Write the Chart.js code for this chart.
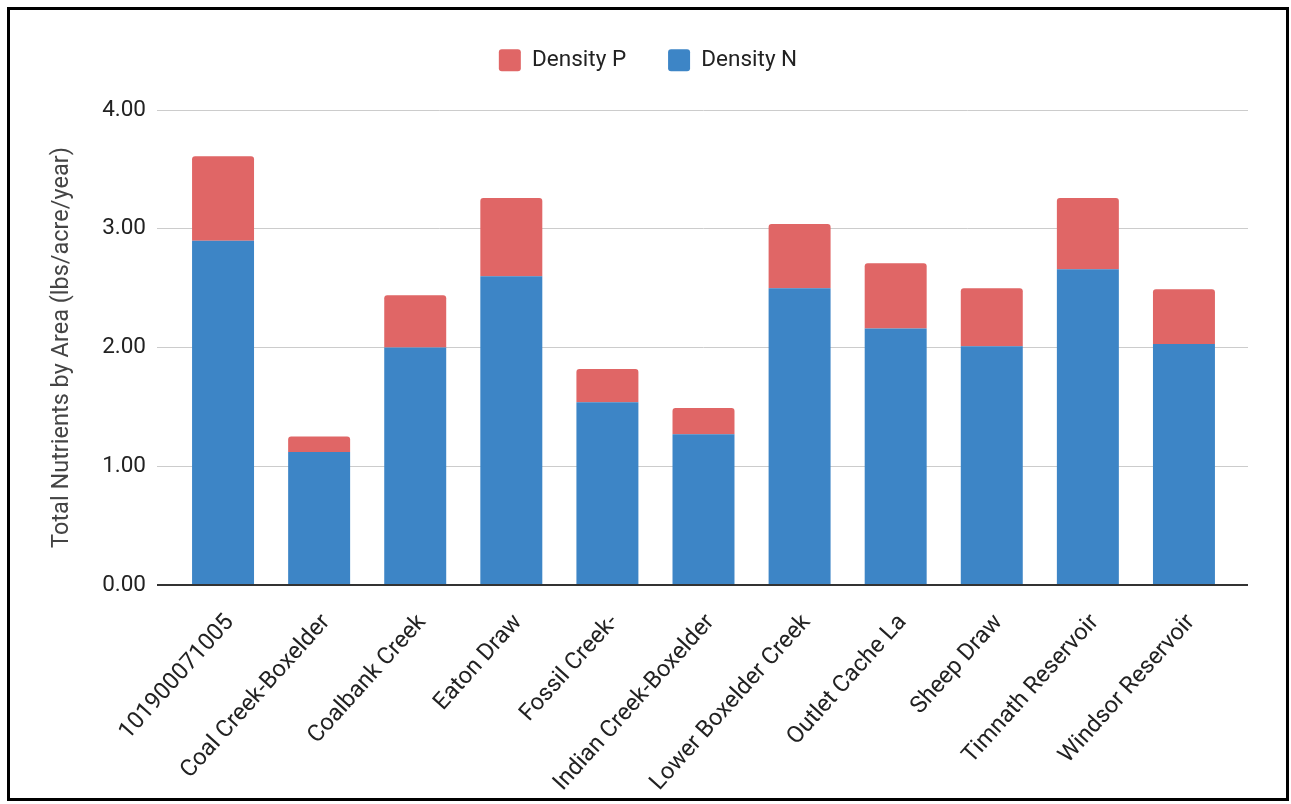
<!DOCTYPE html>
<html>
<head>
<meta charset="utf-8">
<script src="https://cdn.jsdelivr.net/npm/chart.js@4.4.1/dist/chart.umd.min.js"></script>
<style>
  html, body { margin: 0; padding: 0; background: #fff; }
  #wrap { position: relative; width: 1291px; height: 804px; }
  #c { position: absolute; left: 0; top: 0; }
  #frame { position: absolute; left: 7px; top: 7px; width: 1282px; height: 794px; box-sizing: border-box; border: 3px solid #000; pointer-events: none; }
</style>
</head>
<body>
<div id="wrap">
  <canvas id="c" width="1291" height="804"></canvas>
  <div id="frame"></div>
</div>
<script>
const categories = ['101900071005', 'Coal Creek-Boxelder', 'Coalbank Creek', 'Eaton Draw', 'Fossil Creek-', 'Indian Creek-Boxelder', 'Lower Boxelder Creek', 'Outlet Cache La', 'Sheep Draw', 'Timnath Reservoir', 'Windsor Reservoir'];
const densityN = [2.90, 1.12, 2.00, 2.60, 1.54, 1.27, 2.50, 2.16, 2.01, 2.66, 2.03];
const densityP = [0.71, 0.13, 0.44, 0.66, 0.28, 0.22, 0.54, 0.55, 0.49, 0.60, 0.46];
const yTickValues = [0, 1, 2, 3, 4];
const yTickLabels = ['0.00', '1.00', '2.00', '3.00', '4.00'];
const yTitle = 'Total Nutrients by Area (lbs/acre/year)';

const FONT = 'Roboto';
const gridColor = (c) => (c.tick && c.tick.value === 0) ? '#333333' : '#cccccc';
const gridWidth = (c) => (c.tick && c.tick.value === 0) ? 2 : 1;

const legendHeightPlugin = {
  id: 'legendHeight',
  beforeLayout(chart) {
    const lg = chart.legend;
    if (lg && !lg._patched) {
      const orig = lg.fit;
      lg.fit = function () { orig.call(this); this.height = 103; };
      lg._patched = true;
    }
  }
};

new Chart(document.getElementById('c'), {
  type: 'bar',
  data: {
    labels: categories,
    datasets: [
      { label: 'Density N', data: densityN, backgroundColor: '#3d85c6', borderWidth: 0, borderRadius: 0,
        categoryPercentage: 1, barPercentage: 0.645 },
      { label: 'Density P', data: densityP, backgroundColor: '#e06666', borderWidth: 0,
        borderRadius: { topLeft: 3, topRight: 3, bottomLeft: 0, bottomRight: 0 }, borderSkipped: 'bottom',
        categoryPercentage: 1, barPercentage: 0.645 }
    ]
  },
  options: {
    responsive: false,
    animation: false,
    devicePixelRatio: 1,
    layout: { padding: { left: 48, right: 43, top: 7, bottom: 0 } },
    plugins: {
      tooltip: { enabled: false },
      legend: {
        position: 'top',
        reverse: true,
        labels: {
          boxWidth: 22, boxHeight: 22, padding: 42,
          useBorderRadius: true, borderRadius: 3,
          color: '#222222',
          font: { family: FONT, size: 22.5 }
        }
      }
    },
    scales: {
      x: {
        stacked: true,
        offset: true,
        grid: { display: false },
        border: { display: false },
        ticks: {
          autoSkip: false, maxRotation: 48, minRotation: 48, padding: 16, labelOffset: 7,
          color: '#222222', font: { family: FONT, size: 23.5 }
        },
        afterFit: (s) => { s.height = 219; }
      },
      y: {
        stacked: true,
        min: 0, max: 4,
        afterBuildTicks: (s) => { s.ticks = yTickValues.map(v => ({ value: v })); },
        grid: { color: gridColor, lineWidth: gridWidth, tickLength: 18, drawTicks: true },
        border: { display: false },
        ticks: {
          padding: 11, color: '#222222', font: { family: FONT, size: 22.5 },
          callback: (v) => yTickLabels[yTickValues.indexOf(v)]
        },
        title: { display: true, text: yTitle, color: '#444444', font: { family: FONT, size: 23.5 }, padding: 0 },
        afterFit: (s) => { s.width = 127; }
      },
      y2: {
        position: 'right',
        min: 0, max: 4,
        afterBuildTicks: (s) => { s.ticks = yTickValues.map(v => ({ value: v })); },
        grid: { color: gridColor, lineWidth: gridWidth, tickLength: 16, drawTicks: true, drawOnChartArea: false },
        border: { display: false },
        ticks: { display: false },
        afterFit: (s) => { s.width = 16; }
      }
    }
  },
  plugins: [legendHeightPlugin]
});
</script>
</body>
</html>
